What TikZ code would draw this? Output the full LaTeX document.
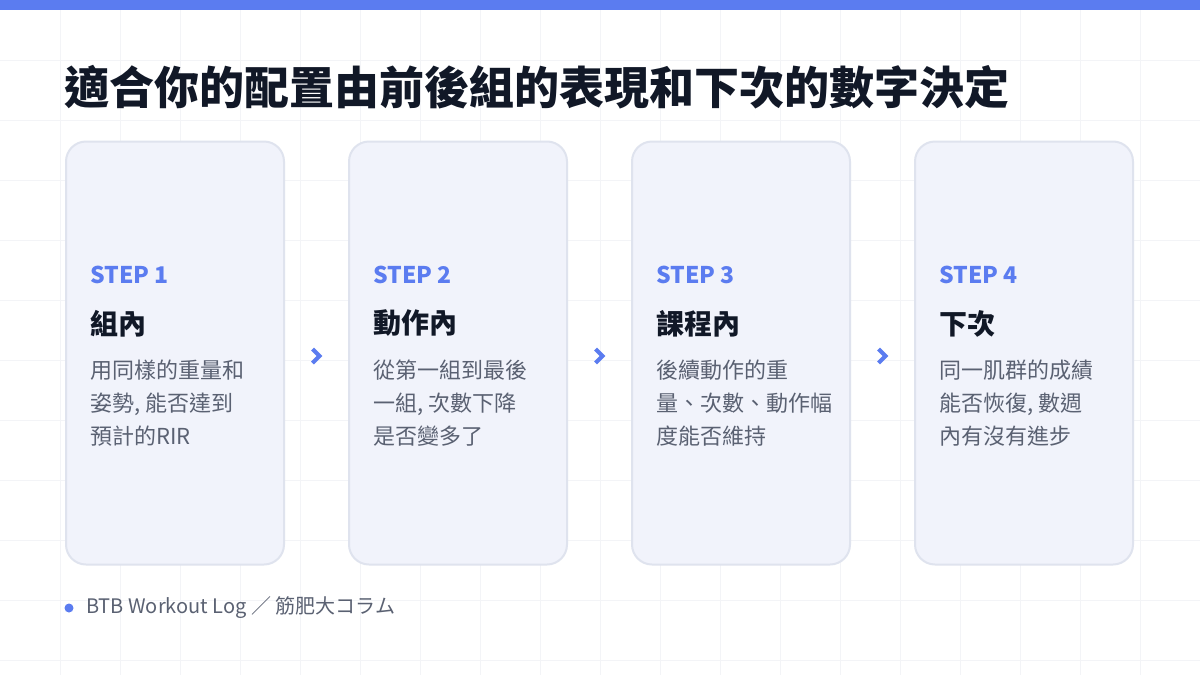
\documentclass[tikz,border=0pt]{standalone}
\usepackage{fontspec}
\setmainfont{Noto Sans CJK TC}
\usetikzlibrary{positioning,calc}
\definecolor{accent}{HTML}{5B7CF0}
\definecolor{ink}{HTML}{111827}
\definecolor{bodygray}{HTML}{5A6172}
\definecolor{cardfill}{HTML}{F1F3FB}
\definecolor{carddraw}{HTML}{DFE3EE}
\definecolor{gridline}{HTML}{F3F4F7}
\tikzset{
  card/.style={draw=carddraw, line width=2pt, fill=cardfill, rounded corners=20pt,
    minimum width=218pt, minimum height=423pt, inner sep=0pt},
  steplabel/.style={anchor=west, text=accent, inner sep=0pt, font=\bfseries\fontsize{23}{26}\selectfont},
  heading/.style={anchor=west, text=ink, inner sep=0pt, font=\bfseries\fontsize{28}{32}\selectfont},
  body/.style={anchor=west, text=bodygray, align=left, inner sep=0pt,
    font=\fontsize{22}{33}\selectfont},
  chevron/.style={accent, line width=4pt, line join=miter},
}
\begin{document}
\begin{tikzpicture}[x=1pt, y=-1pt]
 \useasboundingbox (0,0) rectangle (1200,675);
 \fill[white] (0,0) rectangle (1200,675);
 % grid
 \foreach \i in {1,...,19} \draw[gridline, line width=1pt] (\i*60,0) -- (\i*60,675);
 \foreach \j in {1,...,11} \draw[gridline, line width=1pt] (0,\j*60) -- (1200,\j*60);
 \fill[accent] (0,0) rectangle (1200,10);

 \node (title) [anchor=west, text=ink, inner sep=0pt,
   font=\bfseries\fontsize{45}{50}\selectfont] at (64,87) {適合你的配置由前後組的表現和下次的數字決定};

 \node (c1) [card] at (175,353) {};
 \node (c2) [card, right=63pt of c1] {};
 \node (c3) [card, right=63pt of c2] {};
 \node (c4) [card, right=63pt of c3] {};

 \foreach \c/\n/\h/\t in {
   c1/1/組內/{用同樣的重量和\\姿勢, 能否達到\\預計的RIR},
   c2/2/動作內/{從第一組到最後\\一組, 次數下降\\是否變多了},
   c3/3/課程內/{後續動作的重\\量、次數、動作幅\\度能否維持},
   c4/4/下次/{同一肌群的成績\\能否恢復, 數週\\內有沒有進步}} {
   \node (\c step) [steplabel] at ($(\c.north west)+(25,134)$) {STEP \n};
   \node (\c head) [heading] at ($(\c.north west)+(25,183)$) {\h};
   \node (\c text) [body] at ($(\c.north west)+(25,263)$) {\t};
 }

 \foreach \a/\b in {c1/c2, c2/c3, c3/c4} {
   \coordinate (\a\b) at ($(\a.east)!0.5!(\b.west)+(0,3)$);
   \draw[chevron] ($(\a\b)+(-4,-7)$) -- ($(\a\b)+(3,0)$) -- ($(\a\b)+(-4,7)$);
 }

 \fill[accent] (69,608) circle (4.5);
 \node (footer) [anchor=west, text=bodygray, inner sep=0pt, font=\fontsize{20}{24}\selectfont] at (86,608)
   {BTB Workout Log ／ 筋肥大コラム};
\end{tikzpicture}
\end{document}
